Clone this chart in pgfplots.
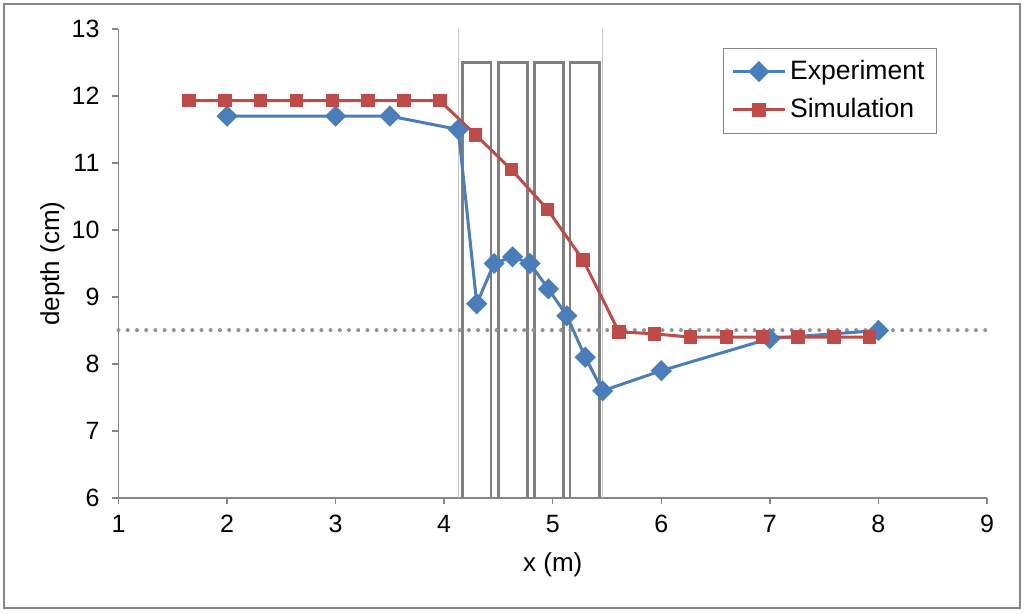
\documentclass[border=0pt]{standalone}
\usepackage{pgfplots}
\pgfplotsset{compat=1.18}
\usepackage{fontspec}
\setmainfont{Liberation Sans}
\definecolor{exblue}{HTML}{4A7EBB}
\definecolor{simred}{HTML}{BE4B48}
\definecolor{axgray}{HTML}{868686}
\begin{document}
\begin{tikzpicture}
\useasboundingbox (-59.25pt,-58pt) rectangle (452.75pt,249pt);
\draw[axgray, line width=1pt] (-57.25pt,-55pt) rectangle (450.75pt,247pt);
\begin{axis}[
 at={(0,0)}, anchor=south west,
 scale only axis, width=434.25pt, height=234.5pt,
 xmin=1, xmax=9, ymin=6, ymax=13,
 xtick={1,...,9}, ytick={6,...,13},
 axis x line*=bottom, axis y line*=left,
 axis line style={axgray, line width=0.7pt, -},
 tick style={axgray, line width=0.7pt},
 tick align=outside, major tick length=3pt,
 tick label style={font=\fontsize{12.5}{14}\selectfont},
 xticklabel style={yshift=-2pt},
 yticklabel style={xshift=-3pt},
 /pgf/number format/assume math mode=true,
 xlabel={x (m)}, ylabel={depth (cm)},
 label style={font=\fontsize{13}{15}\selectfont},
 xlabel style={at={(axis description cs:0.5,-0.143)}, anchor=center},
 ylabel style={at={(axis description cs:-0.076,0.5)}, anchor=center},
 legend style={at={(axis description cs:0.9424,0.9595)}, anchor=north east, draw=axgray,
   font=\fontsize{13.3}{16}\selectfont, row sep=4pt, inner xsep=4pt, inner ysep=4pt},
 legend cell align=left,
 legend image code/.code={\draw[mark repeat=2,mark phase=2] plot coordinates {(0cm,0cm)(0.45cm,0cm)(0.9cm,0cm)};},
 clip=false,
]
% obstacles
\addplot[forget plot, draw=gray!45, line width=0.6pt] coordinates {(4.13,6)(4.13,13)};
\addplot[forget plot, draw=gray!45, line width=0.6pt] coordinates {(5.46,6)(5.46,13)};
\addplot[forget plot, draw=gray, line width=1.3pt] coordinates {(4.17,6)(4.17,12.5)(4.43,12.5)(4.43,6)};
\addplot[forget plot, draw=gray, line width=1.3pt] coordinates {(4.50,6)(4.50,12.5)(4.77,12.5)(4.77,6)};
\addplot[forget plot, draw=gray, line width=1.3pt] coordinates {(4.83,6)(4.83,12.5)(5.10,12.5)(5.10,6)};
\addplot[forget plot, draw=gray, line width=1.3pt] coordinates {(5.16,6)(5.16,12.5)(5.43,12.5)(5.43,6)};
% reference level
\addplot[forget plot, draw=gray!85, line width=2pt, line cap=round, dash pattern=on 0.01pt off 4.6pt] coordinates {(1,8.5)(9,8.5)};
% Experiment
\addplot[exblue, line width=1.5pt, mark=square*, mark size=3pt, mark options={rotate=45, solid, fill=exblue}] coordinates {
(2,11.7)(3,11.7)(3.5,11.7)(4.13,11.5)(4.3,8.9)(4.46,9.5)(4.63,9.6)(4.79,9.5)(4.96,9.12)(5.13,8.72)(5.3,8.1)(5.46,7.6)(6,7.9)(7,8.38)(8,8.5)};
\addlegendentry{Experiment}
% Simulation
\addplot[simred, line width=1.5pt, mark=square*, mark size=2.6pt, mark options={solid, fill=simred}] coordinates {
(1.65,11.93)(1.98,11.93)(2.31,11.93)(2.64,11.93)(2.97,11.93)(3.30,11.93)(3.63,11.93)(3.96,11.93)(4.29,11.42)(4.62,10.9)(4.95,10.31)(5.28,9.55)(5.61,8.48)(5.94,8.45)(6.27,8.4)(6.60,8.4)(6.93,8.4)(7.26,8.4)(7.59,8.4)(7.92,8.4)};
\addlegendentry{Simulation}
\end{axis}
\end{tikzpicture}
\end{document}
